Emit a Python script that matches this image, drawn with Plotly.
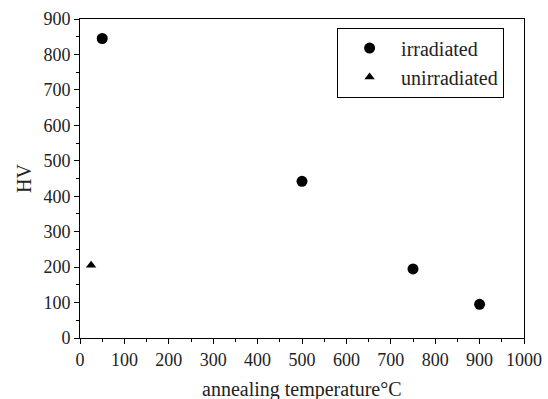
import plotly.graph_objects as go

irr_temp = [50, 500, 750, 900]
irr_hv = [845, 442, 195, 95]
unirr_temp = [25]
unirr_hv = [205]

font = "Liberation Serif"

fig = go.Figure()
fig.add_trace(go.Scatter(x=irr_temp, y=irr_hv, mode="markers", name="irradiated",
                         marker=dict(symbol="circle", size=11, color="black")))
fig.add_trace(go.Scatter(x=unirr_temp, y=unirr_hv, mode="markers", name="unirradiated",
                         marker=dict(symbol="triangle-up", size=9, color="black")))

axis_common = dict(showline=True, linecolor="black", linewidth=1, mirror=True,
                   ticks="outside", ticklen=5, tickcolor="black", showgrid=False,
                   zeroline=False, automargin=False,
                   tickfont=dict(family=font, size=18, color="#222"))

fig.update_xaxes(range=[0, 1000], dtick=100, tick0=0,
                 minor=dict(ticks="outside", ticklen=3, dtick=50, tickcolor="black"),
                 **axis_common)
fig.update_yaxes(range=[0, 900], dtick=100, tick0=0,
                 minor=dict(ticks="outside", ticklen=3, dtick=50, tickcolor="black"),
                 title=dict(text="HV", font=dict(family=font, size=20, color="#222"), standoff=6),
                 **axis_common)

fig.add_annotation(text="annealing temperature°C", xref="paper", yref="paper",
                   x=0.5, y=-0.162, xanchor="center", yanchor="middle", showarrow=False,
                   font=dict(family=font, size=20, color="#222"))

fig.update_layout(
    width=548, height=399,
    margin=dict(l=80, r=24, t=19, b=61),
    plot_bgcolor="white", paper_bgcolor="white",
    font=dict(family=font, color="black"),
    legend=dict(x=0.579, y=0.973, xanchor="left", yanchor="top",
                bordercolor="black", borderwidth=1, bgcolor="white",
                font=dict(family=font, size=20, color="#222"),
                itemwidth=53, tracegroupgap=0,
                entrywidth=165, entrywidthmode="pixels"),
    showlegend=True,
)

fig.write_html("out.html", config={"displayModeBar": False},
               post_script="document.body.style.margin='0';document.body.style.overflow='hidden';")
